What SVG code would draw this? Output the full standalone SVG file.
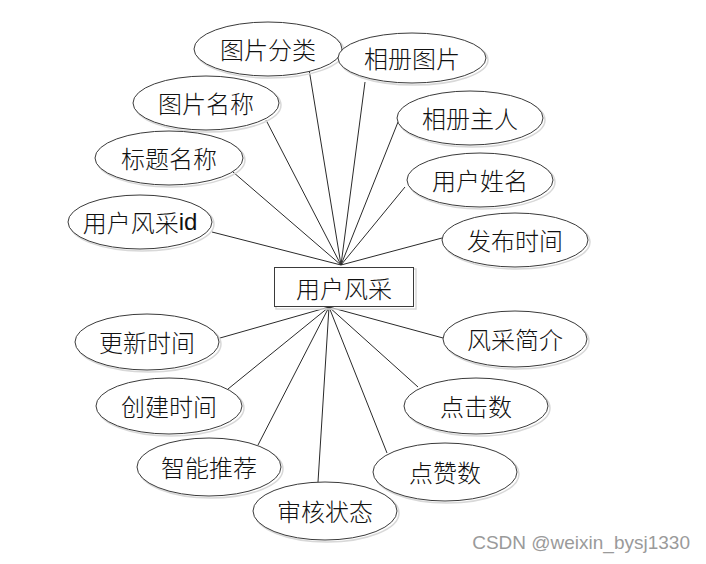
<svg xmlns="http://www.w3.org/2000/svg" width="706" height="564" viewBox="0 0 706 564">
<style>
.e{fill:#fff;stroke:#3a3a3a;stroke-width:1}
.s{fill:none;stroke:#d8d8d8;stroke-width:1.5}
.t{font-family:"Noto Sans CJK SC","Liberation Serif",serif;font-size:24px;font-weight:300;fill:#111;text-anchor:middle;dominant-baseline:central}
.l{stroke:#2a2a2a;stroke-width:1;fill:none}
</style>
<rect width="706" height="564" fill="#fff"/>
<g id="connectors">
<line class="l" x1="341" y1="265" x2="309" y2="69"/>
<line class="l" x1="341" y1="265" x2="365" y2="82"/>
<line class="l" x1="341" y1="265" x2="266" y2="120"/>
<line class="l" x1="341" y1="265" x2="398" y2="122"/>
<line class="l" x1="341" y1="265" x2="233" y2="172"/>
<line class="l" x1="341" y1="265" x2="405" y2="187"/>
<line class="l" x1="341" y1="265" x2="212" y2="232"/>
<line class="l" x1="341" y1="265" x2="442" y2="238"/>
<line class="l" x1="329" y1="307" x2="220" y2="338"/>
<line class="l" x1="329" y1="307" x2="443" y2="338"/>
<line class="l" x1="329" y1="307" x2="228" y2="389"/>
<line class="l" x1="329" y1="307" x2="418" y2="387"/>
<line class="l" x1="329" y1="307" x2="258" y2="445"/>
<line class="l" x1="329" y1="307" x2="387" y2="453"/>
<line class="l" x1="329" y1="307" x2="318" y2="482"/>
</g>
<g id="center">
<rect x="276" y="269" width="140" height="40" fill="none" stroke="#d8d8d8" stroke-width="1.5"/>
<rect x="274.5" y="267.5" width="139" height="39" fill="#fff" stroke="#3a3a3a"/>
<text class="t" x="344" y="287">用户风采</text>
</g>
<g id="n1"><ellipse class="s" cx="270" cy="51" rx="74" ry="27"/><ellipse class="e" cx="268" cy="49" rx="74" ry="27"/><text class="t" x="268" y="48">图片分类</text></g>
<g id="n2"><ellipse class="s" cx="414" cy="60" rx="74" ry="25"/><ellipse class="e" cx="412" cy="58" rx="74" ry="25"/><text class="t" x="412" y="57">相册图片</text></g>
<g id="n3"><ellipse class="s" cx="208" cy="105" rx="73" ry="27"/><ellipse class="e" cx="206" cy="103" rx="73" ry="27"/><text class="t" x="206" y="102">图片名称</text></g>
<g id="n4"><ellipse class="s" cx="472" cy="120" rx="73" ry="27"/><ellipse class="e" cx="470" cy="118" rx="73" ry="27"/><text class="t" x="470" y="117">相册主人</text></g>
<g id="n5"><ellipse class="s" cx="171" cy="160" rx="74" ry="27"/><ellipse class="e" cx="169" cy="158" rx="74" ry="27"/><text class="t" x="169" y="157">标题名称</text></g>
<g id="n6"><ellipse class="s" cx="482" cy="182" rx="73" ry="27"/><ellipse class="e" cx="480" cy="180" rx="73" ry="27"/><text class="t" x="480" y="179">用户姓名</text></g>
<g id="n7"><ellipse class="s" cx="142" cy="224" rx="72" ry="27"/><ellipse class="e" cx="140" cy="222" rx="72" ry="27"/><text class="t" x="140" y="221">用户风采<tspan font-family="Liberation Sans,sans-serif" font-weight="400">id</tspan></text></g>
<g id="n8"><ellipse class="s" cx="517" cy="242" rx="73" ry="27"/><ellipse class="e" cx="515" cy="240" rx="73" ry="27"/><text class="t" x="515" y="239">发布时间</text></g>
<g id="n9"><ellipse class="s" cx="149" cy="344" rx="72" ry="28"/><ellipse class="e" cx="147" cy="342" rx="72" ry="28"/><text class="t" x="147" y="341">更新时间</text></g>
<g id="n10"><ellipse class="s" cx="517" cy="341" rx="72" ry="28"/><ellipse class="e" cx="515" cy="339" rx="72" ry="28"/><text class="t" x="515" y="338">风采简介</text></g>
<g id="n11"><ellipse class="s" cx="171" cy="408" rx="73" ry="28"/><ellipse class="e" cx="169" cy="406" rx="73" ry="28"/><text class="t" x="169" y="405">创建时间</text></g>
<g id="n12"><ellipse class="s" cx="478" cy="408" rx="72" ry="28"/><ellipse class="e" cx="476" cy="406" rx="72" ry="28"/><text class="t" x="476" y="405">点击数</text></g>
<g id="n13"><ellipse class="s" cx="211" cy="469" rx="72" ry="29"/><ellipse class="e" cx="209" cy="467" rx="72" ry="29"/><text class="t" x="209" y="466">智能推荐</text></g>
<g id="n14"><ellipse class="s" cx="447" cy="474" rx="72" ry="29"/><ellipse class="e" cx="445" cy="472" rx="72" ry="29"/><text class="t" x="445" y="471">点赞数</text></g>
<g id="n15"><ellipse class="s" cx="327" cy="513" rx="72" ry="29"/><ellipse class="e" cx="325" cy="511" rx="72" ry="29"/><text class="t" x="325" y="510">审核状态</text></g>
<text x="690" y="549" font-family="Liberation Sans,Arial,sans-serif" font-size="19" fill="#9a9a9a" text-anchor="end">CSDN @weixin_bysj1330</text>
</svg>
